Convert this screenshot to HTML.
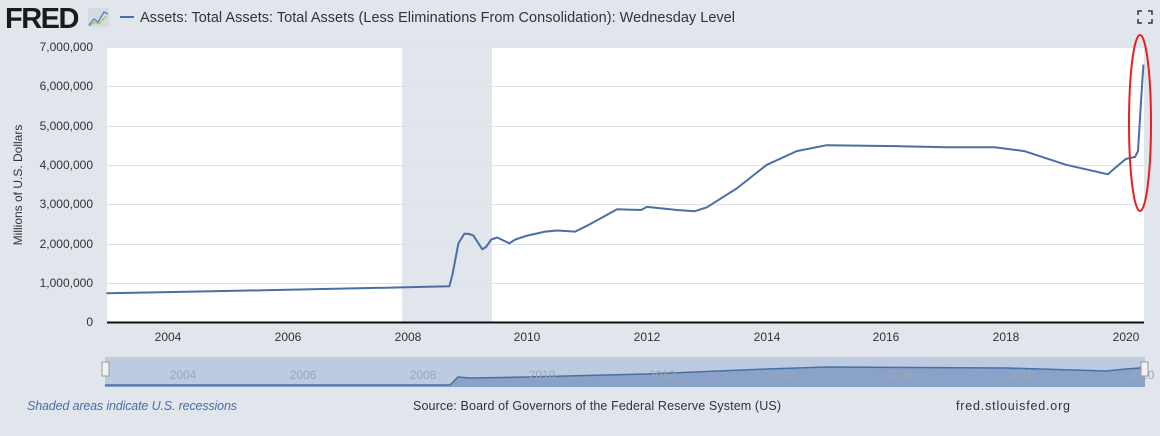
<!DOCTYPE html><html><head><style>
body{margin:0;background:#e1e6ed;font-family:"Liberation Sans",sans-serif;}
</style></head><body>
<svg width="1160" height="431" xmlns="http://www.w3.org/2000/svg" font-family="Liberation Sans, sans-serif">
<rect width="1160" height="431" fill="#e1e6ed"/>
<text x="5" y="28" font-size="29" font-weight="bold" fill="#1a1a1a" letter-spacing="-1.5">FRED</text>
<rect x="88" y="8" width="21" height="19" fill="#d6dbe0"/>
<polyline points="89,25 94,19 98,22 104,12 108,14" fill="none" stroke="#4f7fbf" stroke-width="1.3"/>
<polyline points="89,26 95,22 99,24 106,16" fill="none" stroke="#9ac65a" stroke-width="1.3"/>
<line x1="120" y1="17" x2="134" y2="17" stroke="#4a6fa5" stroke-width="2"/>
<text x="140" y="22" font-size="14.5" fill="#333" textLength="595">Assets: Total Assets: Total Assets (Less Eliminations From Consolidation): Wednesday Level</text>
<g stroke="#333" stroke-width="1.5" fill="none"><path d="M1138 15v-4h4M1148 11h4v4M1152 19v4h-4M1142 23h-4v-4"/></g>
<rect x="107" y="47" width="1037" height="275" fill="#fff"/>
<rect x="402" y="47" width="90" height="275" fill="#e1e6ed"/>
<g stroke="#dde3ea" stroke-width="1">
<line x1="107" y1="47.5" x2="1144" y2="47.5"/><line x1="107" y1="86.5" x2="1144" y2="86.5"/><line x1="107" y1="126.5" x2="1144" y2="126.5"/><line x1="107" y1="165.5" x2="1144" y2="165.5"/><line x1="107" y1="204.5" x2="1144" y2="204.5"/><line x1="107" y1="244.5" x2="1144" y2="244.5"/><line x1="107" y1="283.5" x2="1144" y2="283.5"/>
</g>
<line x1="107" y1="322.5" x2="1144" y2="322.5" stroke="#111" stroke-width="2"/>
<g font-size="12" fill="#333" text-anchor="end">
<text x="93" y="51">7,000,000</text><text x="93" y="90">6,000,000</text><text x="93" y="130">5,000,000</text><text x="93" y="169">4,000,000</text><text x="93" y="208">3,000,000</text><text x="93" y="248">2,000,000</text><text x="93" y="287">1,000,000</text><text x="93" y="326">0</text>
</g>
<text transform="translate(22,185) rotate(-90)" font-size="12" fill="#333" text-anchor="middle">Millions of U.S. Dollars</text>
<g font-size="12" fill="#333" text-anchor="middle">
<text x="168" y="341">2004</text><text x="288" y="341">2006</text><text x="408" y="341">2008</text><text x="527" y="341">2010</text><text x="647" y="341">2012</text><text x="767" y="341">2014</text><text x="886" y="341">2016</text><text x="1006" y="341">2018</text><text x="1126" y="341">2020</text>
</g>
<polyline fill="none" stroke="#4a6fa5" stroke-width="2" stroke-linejoin="round" points="106.3,293.3 168,292.1 287.8,289.8 401.5,287.4 449.4,286.2 452.4,274.9 458.4,243.4 464.4,233.6 469,234 473.4,235.6 482.3,249.3 486,247 491.3,239.5 497.3,237.5 509.3,243.4 515.3,239.5 527.3,235.6 545.2,231.6 557.2,230.5 575.2,231.6 587.1,225.7 617.1,209.2 641,210 647,206.9 659,208.1 677,210 694.9,211.2 706.9,207.3 736.8,188.4 766.8,164.8 796.7,151.1 826.6,145.2 886.5,146 946.4,147.2 994.3,147.2 1024.2,151.1 1066.1,164.8 1108,174.3 1114,168.8 1126,158.9 1135,157 1138,151.1 1141,102 1142.5,78.4 1143.5,64.6"/>
<ellipse cx="1140" cy="123" rx="11" ry="88" fill="none" stroke="#e8201f" stroke-width="2"/>
<rect x="105" y="357" width="1040" height="30" fill="#bccbe0"/>
<path d="M105 385 L450 385 L458 377 L470 378 L527 377 L647 374 L767 369 L827 367 L1006 368 L1106 371 L1126 369 L1140 368 L1145 362 L1145 387 L105 387Z" fill="#8aa2c8"/>
<polyline fill="none" stroke="#4a6fa5" stroke-width="1.5" points="105,385 450,385 458,377 470,378 527,377 647,374 767,369 827,367 1006,368 1106,371 1126,369 1140,368 1145,362"/>
<g font-size="12" fill="#9aa7b8" text-anchor="middle">
<text x="183" y="379">2004</text><text x="303" y="379">2006</text><text x="423" y="379">2008</text><text x="542" y="379">2010</text><text x="662" y="379">2012</text><text x="782" y="379">2014</text><text x="901" y="379">2016</text><text x="1021" y="379">2018</text><text x="1141" y="379">2020</text>
</g>
<rect x="102" y="362" width="7" height="14" fill="#f2f2f2" stroke="#999"/>
<rect x="1141" y="362" width="7" height="14" fill="#f2f2f2" stroke="#999"/>
<text x="27" y="410" font-size="12.5" font-style="italic" fill="#4a6fa5" textLength="210">Shaded areas indicate U.S. recessions</text>
<text x="413" y="410" font-size="12.5" fill="#333" textLength="368">Source: Board of Governors of the Federal Reserve System (US)</text>
<text x="956" y="410" font-size="12.5" fill="#333" textLength="114">fred.stlouisfed.org</text>
</svg>
</body></html>
